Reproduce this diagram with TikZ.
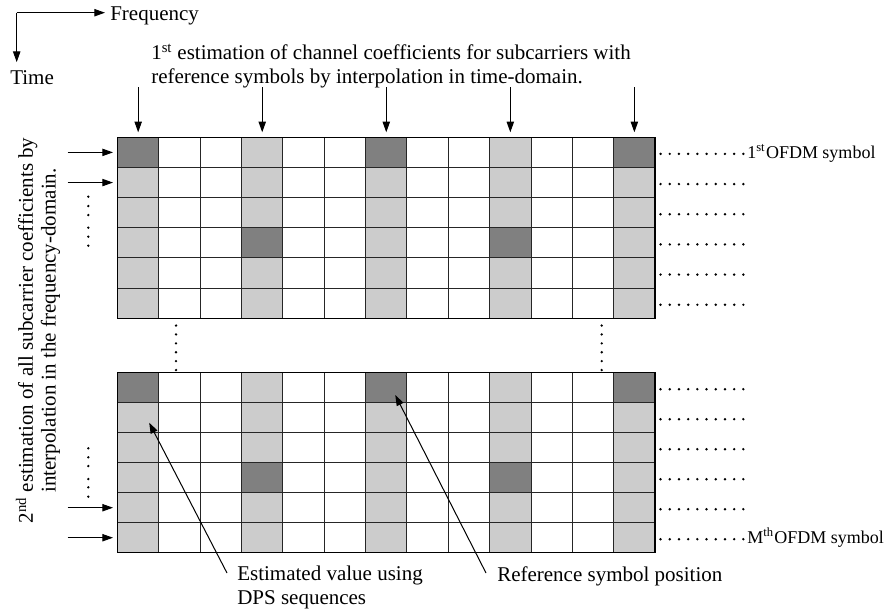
\documentclass[tikz,border=0pt]{standalone}
\usepackage{fontspec}
\setmainfont{Liberation Serif}
\usetikzlibrary{arrows.meta,calc}
\definecolor{darkc}{HTML}{808080}
\definecolor{lightc}{HTML}{CCCCCC}
\begin{document}
\begin{tikzpicture}[x=0.75pt,y=-0.75pt,
  cellA/.style={draw=black!85,line width=0.75pt,inner sep=0pt,outer sep=0pt,minimum width=31.01pt,minimum height=22.63pt},
  cellB/.style={cellA,minimum height=22.5pt},
  arr/.style={-{Triangle[length=8pt,width=5.5pt]},line width=0.75pt},
  txt/.style={font=\fontsize{15.75pt}{18pt}\selectfont,inner sep=0pt},
  sidetxt/.style={font=\fontsize{15.75pt}{17pt}\selectfont,inner sep=0pt},
  lbl/.style={font=\fontsize{13.5pt}{15pt}\selectfont,inner sep=0pt},
  border/.style={draw=black,line width=1.1pt}]
\useasboundingbox (0,0) rectangle (889,612);
\fill[white] (0,0) rectangle (889,612);
% axes
\coordinate (o) at (16.7,12.7);
\node[txt,anchor=base west] (freq) at (110,20) {Frequency};
\node[txt,anchor=base west] (time) at (10,84.3) {Time};
\draw[arr,shorten >=3.75pt] (o) -- (o -| freq.west);
\draw[arr,shorten >=6pt] (o) -- (o |- time.north);
% grids
\foreach \r in {0,...,5}{\foreach \c in {0,...,12}{
  \pgfmathtruncatemacro\m{mod(\c,3)}
  \pgfmathtruncatemacro\s{mod(\c,6)}
  \def\fc{white}
  \ifnum\m=0 \def\fc{lightc}\fi
  \ifnum\r=0 \ifnum\s=0 \def\fc{darkc}\fi\fi
  \ifnum\r=3 \ifnum\s=3 \def\fc{darkc}\fi\fi
  \node[cellA,fill=\fc] (t-\r-\c) at ({117.5+41.35*(\c+0.5)},{137.3+30.17*(\r+0.5)}) {};
  \node[cellB,fill=\fc] (b-\r-\c) at ({117.5+41.35*(\c+0.5)},{372.7+30*(\r+0.5)}) {};
}}
\draw[border] (t-0-0.north west) rectangle (t-5-12.south east);
\draw[border] (b-0-0.north west) rectangle (b-5-12.south east);
% title and top arrows
\node[txt,align=left,anchor=north west] (title) at (151,44) {1\textsuperscript{st} estimation of channel coefficients for subcarriers with\\reference symbols by interpolation in time-domain.};
\foreach \c in {0,3,6,9,12}{
  \draw[arr] ($(t-0-\c.north)+(0,-50)$) -- ($(t-0-\c.north)+(0,-5)$);
}
% side text and arrows
\node[sidetxt,align=center,rotate=90] (side) at (38,330.5) {2\textsuperscript{nd} estimation of all subcarrier coefficients by\\interpolation in the frequency-domain.};
\foreach \r in {0,1}{
  \draw[arr] ($(t-\r-0.west)+(-50,0)$) -- ($(t-\r-0.west)+(-4.5,0)$);
}
\foreach \r in {4,5}{
  \draw[arr] ($(b-\r-0.west)+(-50,0)$) -- ($(b-\r-0.west)+(-4.5,0)$);
}
\foreach \y in {196.7,206,215,227.7,236.7,245.7,448.3,457.3,466,479,487.3,496.7}{
  \fill (88.3,\y) circle (1.3);
}
% middle dots
\foreach \k in {0,...,5}{
  \fill ($(t-5-1.south)+(-3.5,{7.2+8.9*\k})$) circle (1.3);
  \fill ($(t-5-11.south)+(8.7,{7.2+8.9*\k})$) circle (1.3);
}
% right dots
\foreach \r in {0,...,5}{\foreach \k in {0,...,9}{
  \fill ($(t-\r-12.east)+({5.5+9.2*\k},1.5)$) circle (1.35);
  \fill ($(b-\r-12.east)+({5.5+9.2*\k},1.5)$) circle (1.35);
}}
\node[lbl,anchor=base west] (first) at (747,158) {1\textsuperscript{st}\kern0.5pt OFDM symbol};
\node[lbl,anchor=base west] (last) at (747,543.5) {M\textsuperscript{th}\kern0.5pt OFDM symbol};
% bottom callouts
\node[txt,align=left,anchor=north west] (est) at (237,566) {Estimated value using\\DPS sequences};
\node[txt,anchor=north west] (ref) at (497,566) {Reference symbol position};
\draw[arr] ($(est.north west)+(-10,7)$) -- ($(b-1-0.center)+(11,5)$);
\draw[arr] ($(ref.north west)+(-11,7)$) -- ($(b-0-6.center)+(9,7.3)$);
\end{tikzpicture}
\end{document}
